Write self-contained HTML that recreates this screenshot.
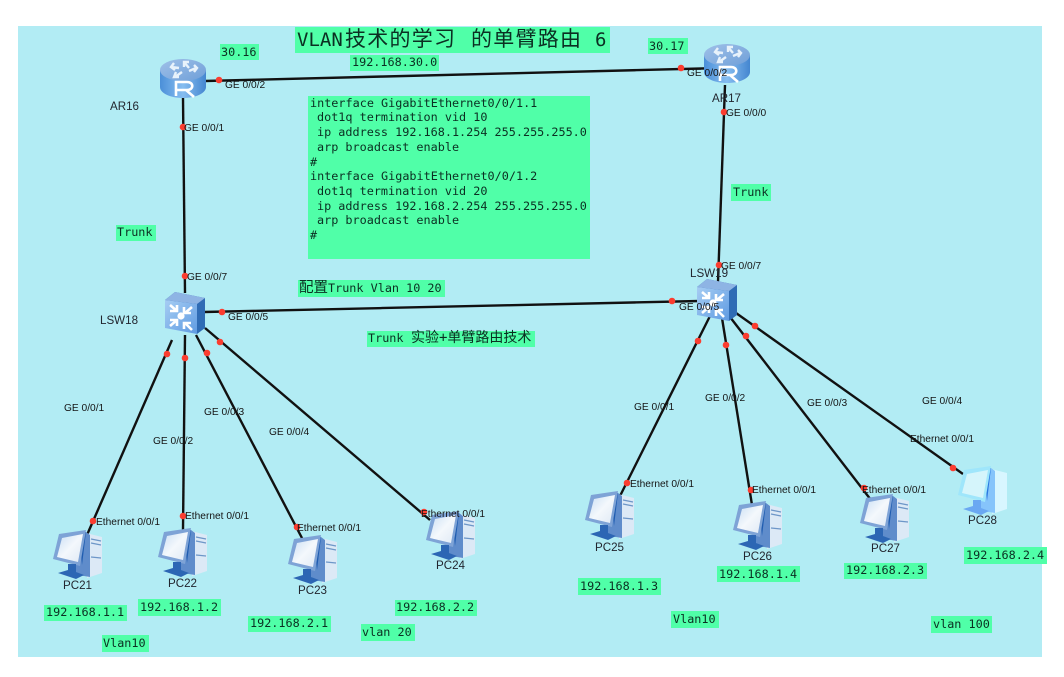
<!DOCTYPE html>
<html><head><meta charset="utf-8"><style>
html,body{margin:0;padding:0;background:#fff;width:1064px;height:677px;overflow:hidden}
svg{display:block;filter:blur(.35px)}
.m{font-family:"DejaVu Sans Mono","Liberation Mono","Noto Sans CJK SC",monospace;font-size:11.8px;fill:#0b2f22}
.l{font-family:"Liberation Sans",sans-serif;font-size:10.2px;fill:#151515}
.n{font-family:"Liberation Sans",sans-serif;font-size:11.6px;fill:#22262f}
.g{fill:#50ffa8}
.w{stroke:#111;stroke-width:2.4;fill:none}
.d{fill:#fb3d30}
</style></head><body>
<svg width="1064" height="677" viewBox="0 0 1064 677" xmlns="http://www.w3.org/2000/svg">
<defs>
<linearGradient id="rt" x1="0" y1="0" x2="1" y2="0"><stop offset="0" stop-color="#4b8fd8"/><stop offset=".5" stop-color="#86bdf0"/><stop offset="1" stop-color="#4486d0"/></linearGradient>
<linearGradient id="rtop" x1="0" y1="0" x2="1" y2="1"><stop offset="0" stop-color="#9fc0e8"/><stop offset="1" stop-color="#6f9fd8"/></linearGradient>
<linearGradient id="sw" x1="0" y1="0" x2="1" y2="1"><stop offset="0" stop-color="#a6cdf3"/><stop offset="1" stop-color="#5f9be2"/></linearGradient>
<linearGradient id="scr" x1="0" y1="0" x2="1" y2="1"><stop offset="0" stop-color="#c9def4"/><stop offset=".5" stop-color="#f4f8fc"/><stop offset="1" stop-color="#dfe9f5"/></linearGradient>
<g id="router">
<path d="M0 11V28C0 34 10 39 23 39S46 34 46 28V11Z" fill="url(#rt)"/>
<ellipse cx="23" cy="11" rx="23" ry="11" fill="url(#rtop)"/>
<g stroke="#e8f2fb" stroke-width="2.4" fill="none">
<path d="M11 8l8 1M14 4l-3 4 4 3M24 3l5 6M24 8v-5h5M36 9l-7 3M34 6l3 3-3 4M15 18l7-5M16 13l-2 5h5"/>
</g>
<path d="M16 37V23H27C34 23 34 31 27 31H16M26 31L34 38" stroke="#fff" stroke-width="2.6" fill="none"/>
</g>
<g id="switch">
<path d="M2 8L12 0L42 6V36L34 42Z" fill="#2f6cb5"/>
<path d="M2 8L12 0L42 6L34 12Z" fill="#8eb4e4"/>
<path d="M2 8L34 12V42L2 36Z" fill="url(#sw)"/>
<g stroke="#fff" stroke-width="2.6" fill="none">
<path d="M7 13l7 6M14 13v6h-7M29 15l-7 6M21 15v6h7M7 34l7-6M7 28h7v6M29 38l-7-7M21 37v-6h7"/>
</g>
<circle cx="18" cy="24" r="3.6" fill="#fff"/>
</g>
<g id="pc">
<path d="M33 4L49 8V44L34 49Z" fill="#dce9f6"/>
<path d="M20 38L33 3L37 6L37 48L25 46Z" fill="#5f8ccb"/>
<path d="M29 36L33 3L26 4Z" fill="#1f5cb0"/>
<path d="M38 10l10 2M38 14l10 2M38 28l10 1" stroke="#6d96c8" stroke-width="1.2"/>
<path d="M6 5L33 1L27 37L0 30Z" fill="#7ea3d6"/>
<path d="M9 9L30 5L25 33L4 28Z" fill="url(#scr)"/>
<path d="M15 35H23V43L31 46L23 50L5 44L15 41Z" fill="#2c66b4"/>
</g>
<g id="pcl">
<path d="M33 4L49 8V44L34 49Z" fill="#d8f6ff"/>
<path d="M20 38L33 3L37 6L37 48L25 46Z" fill="#86c4fb"/>
<path d="M29 36L33 3L26 4Z" fill="#2a78e0"/>
<path d="M6 5L33 1L27 37L0 30Z" fill="#9fe6fb"/>
<path d="M9 9L30 5L25 33L4 28Z" fill="#d5f5fb"/>
<path d="M15 35H23V43L31 46L23 50L5 44L15 41Z" fill="#6aa8f2"/>
</g>
</defs>

<rect x="18" y="26" width="1024" height="631" fill="#b2ecf4"/>

<g class="w">
<path d="M205 81L722 68"/>
<path d="M183 98L185 293"/>
<path d="M725 85L718 282"/>
<path d="M204 312L700 301"/>
<path d="M172 340L87 535"/>
<path d="M185 335L183 530"/>
<path d="M196 335L303 540"/>
<path d="M205 328L430 520"/>
<path d="M710 316L618 500"/>
<path d="M722 318L752 505"/>
<path d="M730 317L871 500"/>
<path d="M736 313L963 474"/>
</g>

<use href="#router" x="160" y="59"/>
<use href="#router" x="704" y="44"/>
<use href="#switch" x="163" y="292"/>
<use href="#switch" x="695" y="279"/>
<use href="#pc" x="53" y="529"/>
<use href="#pc" x="158" y="527"/>
<use href="#pc" x="288" y="534"/>
<use href="#pc" x="426" y="510"/>
<use href="#pc" x="585" y="490"/>
<use href="#pc" x="733" y="500"/>
<use href="#pc" x="860" y="493"/>
<use href="#pcl" x="958" y="465"/>

<g class="d">
<circle cx="219" cy="80" r="3.3"/><circle cx="681" cy="68" r="3.3"/>
<circle cx="183" cy="127" r="3.3"/><circle cx="185" cy="276" r="3.3"/>
<circle cx="724" cy="112" r="3.3"/><circle cx="719" cy="265" r="3.3"/>
<circle cx="222" cy="312" r="3.3"/><circle cx="672" cy="301" r="3.3"/>
<circle cx="167" cy="354" r="3.3"/><circle cx="185" cy="358" r="3.3"/><circle cx="207" cy="353" r="3.3"/><circle cx="220" cy="342" r="3.3"/>
<circle cx="93" cy="521" r="3.3"/><circle cx="183" cy="516" r="3.3"/><circle cx="297" cy="527" r="3.3"/><circle cx="424" cy="512" r="3.3"/>
<circle cx="698" cy="341" r="3.3"/><circle cx="726" cy="345" r="3.3"/><circle cx="746" cy="336" r="3.3"/><circle cx="755" cy="326" r="3.3"/>
<circle cx="627" cy="483" r="3.3"/><circle cx="751" cy="490" r="3.3"/><circle cx="864" cy="488" r="3.3"/><circle cx="953" cy="468" r="3.3"/>
</g>

<g class="g">
<rect x="295" y="27" width="315" height="26"/>
<rect x="220" y="44" width="39" height="16"/>
<rect x="350" y="55" width="89" height="16"/>
<rect x="648" y="38" width="40" height="16"/>
<rect x="116" y="225" width="40" height="16"/>
<rect x="308" y="96" width="282" height="163"/>
<rect x="731" y="184" width="40" height="17"/>
<rect x="298" y="280" width="147" height="17"/>
<rect x="367" y="331" width="168" height="16"/>
<rect x="44" y="605" width="83" height="16"/>
<rect x="138" y="599" width="83" height="17"/>
<rect x="248" y="616" width="83" height="16"/>
<rect x="102" y="635" width="47" height="17"/>
<rect x="395" y="600" width="82" height="16"/>
<rect x="361" y="624" width="54" height="17"/>
<rect x="578" y="578" width="83" height="17"/>
<rect x="717" y="566" width="83" height="16"/>
<rect x="844" y="563" width="83" height="16"/>
<rect x="964" y="547" width="83" height="17"/>
<rect x="671" y="611" width="48" height="17"/>
<rect x="931" y="616" width="61" height="17"/>
</g>

<text class="m" x="297" y="46" style="font-size:19px">VLAN</text>
<text class="m" x="345" y="46" style="font-size:21px;font-family:'Noto Sans CJK SC',sans-serif" textLength="110">技术的学习</text>
<text class="m" x="471" y="46" style="font-size:21px;font-family:'Noto Sans CJK SC',sans-serif" textLength="110">的单臂路由</text>
<text class="m" x="595" y="46" style="font-size:19px">6</text>

<g class="m">
<text x="221" y="56">30.16</text>
<text x="352" y="66">192.168.30.0</text>
<text x="649" y="50">30.17</text>
<text x="117" y="236">Trunk</text>
<text x="733" y="196">Trunk</text>
<text x="310" y="107">interface GigabitEthernet0/0/1.1</text>
<text x="317" y="121">dot1q termination vid 10</text>
<text x="317" y="136">ip address 192.168.1.254 255.255.255.0</text>
<text x="317" y="151">arp broadcast enable</text>
<text x="310" y="166">#</text>
<text x="310" y="180">interface GigabitEthernet0/0/1.2</text>
<text x="317" y="195">dot1q termination vid 20</text>
<text x="317" y="210">ip address 192.168.2.254 255.255.255.0</text>
<text x="317" y="224">arp broadcast enable</text>
<text x="310" y="239">#</text>
<text x="299" y="292" style="font-family:'Noto Sans CJK SC',sans-serif;font-size:14.5px">配置</text>
<text x="328" y="292">Trunk Vlan 10 20</text>
<text x="368" y="342">Trunk</text>
<text x="411" y="342" style="font-family:'DejaVu Sans Mono','Noto Sans CJK SC',sans-serif;font-size:14px">实验+单臂路由技术</text>
<text x="46" y="616">192.168.1.1</text>
<text x="140" y="611">192.168.1.2</text>
<text x="250" y="627">192.168.2.1</text>
<text x="103" y="647">Vlan10</text>
<text x="396" y="611">192.168.2.2</text>
<text x="362" y="636">vlan 20</text>
<text x="580" y="590">192.168.1.3</text>
<text x="719" y="578">192.168.1.4</text>
<text x="846" y="574">192.168.2.3</text>
<text x="966" y="559">192.168.2.4</text>
<text x="673" y="623">Vlan10</text>
<text x="933" y="628">vlan 100</text>
</g>

<g class="l">
<text x="225" y="88">GE 0/0/2</text>
<text x="184" y="131">GE 0/0/1</text>
<text x="187" y="280">GE 0/0/7</text>
<text x="228" y="320">GE 0/0/5</text>
<text x="687" y="76">GE 0/0/2</text>
<text x="726" y="116">GE 0/0/0</text>
<text x="721" y="269">GE 0/0/7</text>
<text x="679" y="310">GE 0/0/5</text>
<text x="64" y="411">GE 0/0/1</text>
<text x="153" y="444">GE 0/0/2</text>
<text x="204" y="415">GE 0/0/3</text>
<text x="269" y="435">GE 0/0/4</text>
<text x="634" y="410">GE 0/0/1</text>
<text x="705" y="401">GE 0/0/2</text>
<text x="807" y="406">GE 0/0/3</text>
<text x="922" y="404">GE 0/0/4</text>
<text x="96" y="525">Ethernet 0/0/1</text>
<text x="185" y="519">Ethernet 0/0/1</text>
<text x="297" y="531">Ethernet 0/0/1</text>
<text x="421" y="517">Ethernet 0/0/1</text>
<text x="630" y="487">Ethernet 0/0/1</text>
<text x="752" y="493">Ethernet 0/0/1</text>
<text x="862" y="493">Ethernet 0/0/1</text>
<text x="910" y="442">Ethernet 0/0/1</text>
</g>

<g class="n">
<text x="110" y="110">AR16</text>
<text x="712" y="102">AR17</text>
<text x="100" y="324">LSW18</text>
<text x="690" y="277">LSW19</text>
<text x="63" y="589">PC21</text>
<text x="168" y="587">PC22</text>
<text x="298" y="594">PC23</text>
<text x="436" y="569">PC24</text>
<text x="595" y="551">PC25</text>
<text x="743" y="560">PC26</text>
<text x="871" y="552">PC27</text>
<text x="968" y="524">PC28</text>
</g>
</svg>
</body></html>
